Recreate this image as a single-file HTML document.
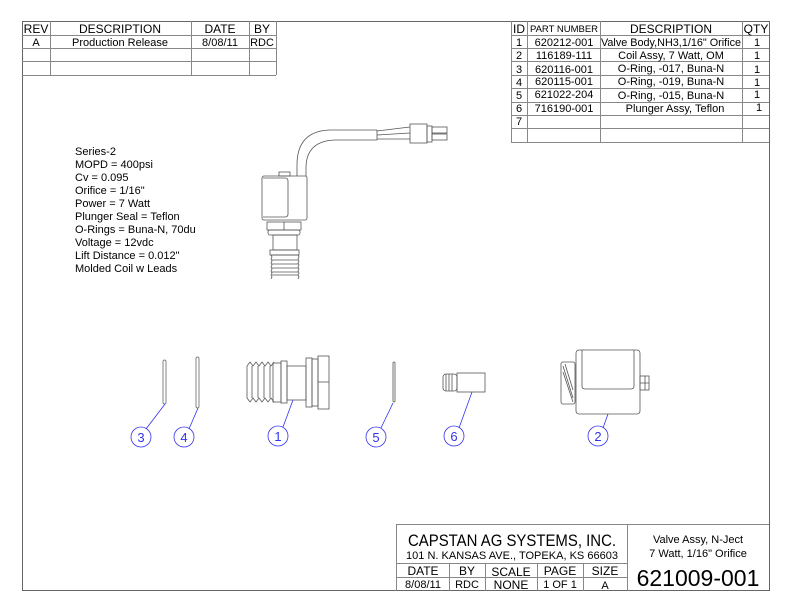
<!DOCTYPE html>
<html><head><meta charset="utf-8"><style>
html,body{margin:0;padding:0;background:#fff;}
svg{display:block;}
text{font-family:"Liberation Sans",sans-serif;fill:#000;}
</style></head><body>
<svg width="792" height="612" viewBox="0 0 792 612" xmlns="http://www.w3.org/2000/svg">
<rect width="792" height="612" fill="#fff"/>
<g fill="none" stroke="#666" stroke-width="1">
<path d="M22.5 21.5 H769.5 V590.5 H22.5 Z"/>
</g>
<g fill="none" stroke="#888" stroke-width="1">
<path d="M22 35.5H276 M22 48.5H276 M22 61.5H276 M22 75.5H276"/>
<path d="M50.5 21V75 M191.5 21V75 M249.5 21V75 M276.5 21V75"/>
</g>
<g font-size="12" text-anchor="middle">
<text x="36" y="33">REV</text><text x="120" y="33">DESCRIPTION</text><text x="220" y="33">DATE</text><text x="262" y="33">BY</text>
<text x="36" y="46" font-size="11">A</text><text x="120" y="46" font-size="11">Production Release</text><text x="220" y="46" font-size="11">8/08/11</text><text x="262" y="46" font-size="11">RDC</text>
</g>
<g fill="none" stroke="#888" stroke-width="1">
<path d="M511.5 21V142.5H769 M511 35.5H769 M511 48.5H769 M511 61.5H769 M511 75.5H769 M511 88.5H769 M511 102.5H769 M511 115.5H769 M511 128.5H769"/>
<path d="M527.5 21V142 M600.5 21V142 M742.5 21V142"/>
</g>
<g font-size="11" text-anchor="middle">
<text x="519" y="33" font-size="12">ID</text><text x="564" y="32" font-size="9.5">PART NUMBER</text><text x="671" y="33" font-size="12">DESCRIPTION</text><text x="756" y="33" font-size="12">QTY</text>
<text x="519" y="46">1</text><text x="564" y="46">620212-001</text><text x="671" y="46" textLength="140" lengthAdjust="spacingAndGlyphs">Valve Body,NH3,1/16" Orifice</text><text x="757" y="46">1</text>
<text x="519" y="59">2</text><text x="564" y="59">116189-111</text><text x="671" y="59">Coil Assy, 7 Watt, OM</text><text x="757" y="59">1</text>
<text x="519" y="73">3</text><text x="564" y="73">620116-001</text><text x="671" y="72">O-Ring, -017, Buna-N</text><text x="757" y="73">1</text>
<text x="519" y="86">4</text><text x="564" y="85">620115-001</text><text x="671" y="85">O-Ring, -019, Buna-N</text><text x="757" y="86">1</text>
<text x="519" y="99">5</text><text x="564" y="98">621022-204</text><text x="671" y="99">O-Ring, -015, Buna-N</text><text x="757" y="98">1</text>
<text x="519" y="112">6</text><text x="564" y="112">716190-001</text><text x="675" y="112">Plunger Assy, Teflon</text><text x="759" y="111">1</text>
<text x="519" y="125">7</text>
</g>
<g font-size="11">
<text x="75" y="155">Series-2</text>
<text x="75" y="168">MOPD = 400psi</text>
<text x="75" y="181">Cv = 0.095</text>
<text x="75" y="194">Orifice = 1/16"</text>
<text x="75" y="207">Power = 7 Watt</text>
<text x="75" y="220">Plunger Seal = Teflon</text>
<text x="75" y="233">O-Rings = Buna-N, 70du</text>
<text x="75" y="246">Voltage = 12vdc</text>
<text x="75" y="259">Lift Distance = 0.012"</text>
<text x="75" y="272">Molded Coil w Leads</text>
</g>
<g fill="none" stroke="#555" stroke-width="0.8">
<path d="M297 176 V165 Q297 131 330 130 H377 M306 176 V168 Q306 141 335 140 H377"/>
<path d="M377 130 V140 M377 131 L410 127 M377 135 L410 133 M377 139 L410 139"/>
<rect x="410" y="124" width="17" height="19"/>
<rect x="427" y="126" width="5" height="16"/>
<rect x="432" y="127" width="15" height="6"/><rect x="432" y="134" width="15" height="6"/>
<rect x="262" y="176" width="45" height="44" rx="2"/>
<path d="M263 178 H285 Q288 178 288 181 V214 Q288 217 285 217 H263"/>
<rect x="279" y="172" width="11" height="4"/>
<rect x="267" y="222" width="34" height="8"/>
<path d="M284 222V230"/>
<rect x="268" y="230" width="32" height="5" rx="2"/>
<rect x="273" y="235" width="24" height="15"/>
<rect x="270" y="250" width="29" height="5"/>
<path d="M271 255 h27 M272 260 h26 M272 264 h26 M272 268 h26 M272 272 h26 M271 255 l1 2 l-1 2 l1 2 l-1 2 l1 2 l-1 2 l1 2 l-1 2 l1 2 l-1 2 l1 2 l-1 2 M298 255 l1 2 l-1 2 l1 2 l-1 2 l1 2 l-1 2 l1 2 l-1 2 l1 2 l-1 2 l1 2 l-1 2 M272 275 h26"/>
</g>
<g fill="none" stroke="#555" stroke-width="0.8">
<rect x="163" y="360" width="3" height="44" rx="1.5" stroke="#666"/>
<rect x="196" y="357" width="3" height="51" rx="1.5" stroke="#666"/>
<rect x="393" y="362" width="2" height="40" rx="1"/>
<path d="M247 366 l3 -4 l3 4 l3 -4 l3 4 l3 -4 l3 4 l3 -4 l3 4 l3 -4 M247 366 V398 l3 4 l3 -4 l3 4 l3 -4 l3 4 l3 -4 l3 4 l3 -4 l3 4"/>
<path d="M252 366 V398 M258 366V398 M264 366V398 M270 366V398"/>
<rect x="273" y="363" width="8" height="39"/><rect x="281" y="361" width="6" height="42"/>
<rect x="287" y="366" width="19" height="34"/>
<rect x="306" y="358" width="6" height="49"/><rect x="312" y="359" width="6" height="47"/>
<rect x="318" y="356" width="11" height="53"/><path d="M318 382 H329"/>
<rect x="443" y="374" width="14" height="17" rx="3"/>
<path d="M446 374V391 M449 374V391 M452 374V391"/>
<rect x="457" y="373" width="28" height="19"/>
<rect x="561" y="362" width="14" height="42" rx="2"/>
<path d="M563 366 L573 398 M563 372 L573 402 M565 364 L573 390"/>
<rect x="576" y="350" width="64" height="64" rx="3"/>
<path d="M582 350 V386 Q582 389 585 389 H631 Q634 389 634 386 V350"/>
<rect x="640" y="376" width="9" height="14"/>
<path d="M645 376V390 M640 383H649"/>
</g>
<g fill="none" stroke="#3333ee" stroke-width="0.8">
<path d="M146 429 L165 404 M189 429 L198 408 M283 427 L293 400 M381 428 L393 403 M459 428 L472 392 M603 428 L608 414"/>
<circle cx="141" cy="437" r="10"/><circle cx="184" cy="437" r="10"/><circle cx="278" cy="436" r="10"/>
<circle cx="376" cy="437" r="10"/><circle cx="454" cy="436" r="10"/><circle cx="598" cy="436" r="10"/>
</g>
<g font-size="13" text-anchor="middle">
<text x="141" y="442" style="fill:#3333ee">3</text><text x="184" y="442" style="fill:#3333ee">4</text><text x="278" y="441" style="fill:#3333ee">1</text>
<text x="376" y="442" style="fill:#3333ee">5</text><text x="454" y="441" style="fill:#3333ee">6</text><text x="598" y="441" style="fill:#3333ee">2</text>
</g>
<g fill="none" stroke="#888" stroke-width="1">
<path d="M396.5 524.5 H769 M396.5 524V591 M627.5 524V591 M396 563.5H627 M396 577.5H627 M449.5 563V591 M485.5 563V591 M537.5 563V591 M583.5 563V591"/>
</g>
<g text-anchor="middle">
<text x="512" y="546" font-size="16.5" textLength="208" lengthAdjust="spacingAndGlyphs">CAPSTAN AG SYSTEMS, INC.</text>
<text x="512" y="559" font-size="11" textLength="212" lengthAdjust="spacingAndGlyphs">101 N. KANSAS AVE., TOPEKA, KS 66603</text>
<text x="698" y="543" font-size="11">Valve Assy, N-Ject</text>
<text x="698" y="557" font-size="11">7 Watt, 1/16" Orifice</text>
<text x="423" y="575" font-size="12">DATE</text><text x="467" y="575" font-size="12">BY</text><text x="511" y="576" font-size="12">SCALE</text><text x="560" y="575" font-size="12">PAGE</text><text x="605" y="575" font-size="12">SIZE</text>
<text x="423" y="588" font-size="11">8/08/11</text><text x="467" y="588" font-size="11">RDC</text><text x="511" y="589" font-size="12">NONE</text><text x="560" y="588" font-size="11">1 OF 1</text><text x="605" y="589" font-size="11">A</text>
<text x="698" y="586" font-size="23">621009-001</text>
</g>
</svg>
</body></html>
